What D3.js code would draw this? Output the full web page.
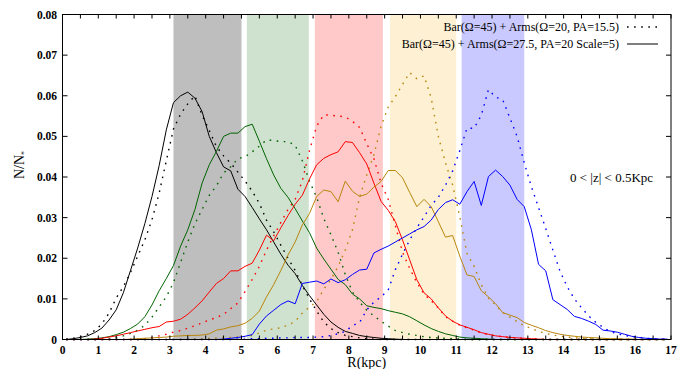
<!DOCTYPE html>
<html><head><meta charset="utf-8">
<script src="https://cdn.jsdelivr.net/npm/d3@7"></script>
<style>body{margin:0;background:#fff}svg{display:block}</style>
</head><body><svg id="c" width="687" height="369" font-family="'Liberation Serif', 'Times New Roman', serif"></svg>
<script>
const R = [0.1,0.3,0.5,0.7,0.9,1.1,1.3,1.5,1.7,1.9,2.1,2.3,2.5,2.7,2.9,3.1,3.3,3.5,3.7,3.9,4.1,4.3,4.5,4.7,4.9,5.1,5.3,5.5,5.7,5.9,6.1,6.3,6.5,6.7,6.9,7.1,7.3,7.5,7.7,7.9,8.1,8.3,8.5,8.7,8.9,9.1,9.3,9.5,9.7,9.9,10.1,10.3,10.5,10.7,10.9,11.1,11.3,11.5,11.7,11.9,12.1,12.3,12.5,12.7,12.9,13.1,13.3,13.5,13.7,13.9,14.1,14.3,14.5,14.7,14.9,15.1,15.3,15.5,15.7,15.9,16.1,16.3,16.5,16.7,16.9];
const Z10 = [0,0,0,0,0,0,0,0,0,0];
// Bar(Ω=45)+Arms(Ω=27.5, PA=20 Scale=5) — solid
const blackSolid = [0,0.0002,0.0005,0.0009,0.0017,0.0028,0.0048,0.0073,0.0115,0.0170,
 0.0225,0.0285,0.0352,0.0428,0.0516,0.0583,0.0600,0.0609,0.0594,0.0561,
 0.0500,0.0460,0.0425,0.0415,0.0370,0.0352,0.0325,0.0297,0.0270,0.0240,
 0.0210,0.0183,0.0162,0.0133,0.0108,0.0085,0.0062,0.0043,0.0030,0.0020,
 0.0015,0.0010,0.0007,0.0005,0.0003,0.0002,0.0001,0,0,0,
 ...Z10,...Z10,...Z10,0,0,0,0,0];
const greenSolid = [0,0,0,0.0001,0.0002,0.0004,0.0007,0.0012,0.0018,0.0027,
 0.0038,0.0056,0.0085,0.0120,0.0150,0.0182,0.0230,0.0270,0.0320,0.0385,
 0.0430,0.0463,0.0500,0.0508,0.0508,0.0524,0.0530,0.0488,0.0445,0.0405,
 0.0372,0.0350,0.0322,0.0292,0.0263,0.0225,0.0198,0.0173,0.0148,0.0135,
 0.0112,0.0100,0.0083,0.0079,0.0076,0.0071,0.0067,0.0063,0.0056,0.0046,
 0.0036,0.0027,0.0020,0.0014,0.0010,0.0006,0.0004,0.0003,0.0002,0.0001,
 ...Z10,...Z10,0,0,0,0,0];
const redSolid = [0,0,0,0,0.0001,0.0003,0.0006,0.0009,0.0013,0.0017,
 0.0021,0.0025,0.0029,0.0032,0.0043,0.0045,0.0050,0.0062,0.0078,0.0095,
 0.0117,0.0138,0.0150,0.0169,0.0169,0.0180,0.0188,0.0220,0.0257,0.0243,
 0.0275,0.0305,0.0333,0.0355,0.0395,0.0430,0.0446,0.0455,0.0462,0.0487,
 0.0485,0.0460,0.0432,0.0385,0.0340,0.0318,0.0290,0.0245,0.0196,0.0147,
 0.0115,0.0100,0.0078,0.0058,0.0045,0.0036,0.0030,0.0024,0.0017,0.0013,
 0.0009,0.0007,0.0005,0.0004,0.0003,0.0002,0.0001,0,0,0,
 ...Z10,0,0,0,0,0];
const goldSolid = [0,0,0,0,0,0,0,0,0,0.0001,
 0.0002,0.0003,0.0004,0.0005,0.0006,0.0008,0.0009,0.0010,0.0010,0.0011,
 0.0014,0.0023,0.0026,0.0031,0.0034,0.0040,0.0052,0.0070,0.0105,0.0135,
 0.0170,0.0208,0.0240,0.0282,0.0310,0.0352,0.0368,0.0364,0.0339,0.0390,
 0.0365,0.0352,0.0358,0.0375,0.0389,0.0416,0.0416,0.0398,0.0362,0.0327,
 0.0345,0.0327,0.0290,0.0252,0.0256,0.0205,0.0159,0.0155,0.0120,0.0105,
 0.0088,0.0066,0.0060,0.0054,0.0042,0.0035,0.0029,0.0022,0.0017,0.0013,
 0.0010,0.0008,0.0006,0.0005,0.0004,0.0003,0.0002,0.0002,0.0001,0.0001,
 0,0,0,0,0];
const blueSolid = [...Z10,...Z10,
 0,0,0.0001,0.0003,0.0005,0.0008,0.0012,0.0038,0.0058,0.0072,
 0.0086,0.0095,0.0088,0.0138,0.0141,0.0144,0.0137,0.0149,0.0140,0.0147,
 0.0160,0.0171,0.0173,0.0213,0.0222,0.0230,0.0240,0.0250,0.0260,0.0270,
 0.0278,0.0294,0.0320,0.0337,0.0344,0.0333,0.0364,0.0389,0.0330,0.0401,
 0.0417,0.0401,0.0380,0.0345,0.0327,0.0270,0.0185,0.0169,0.0098,0.0086,
 0.0074,0.0057,0.0052,0.0045,0.0037,0.0023,0.0021,0.0018,0.0013,0.0008,
 0.0005,0.0003,0.0002,0.0001,0.0001];
// Bar(Ω=45)+Arms(Ω=20, PA=15.5) — dotted
const blackDot = [0.0001,0.0003,0.0007,0.0013,0.0022,0.0038,0.0065,0.0102,0.0130,0.0165,
 0.0205,0.0245,0.0295,0.0360,0.0440,0.0518,0.0555,0.0580,0.0600,0.0552,
 0.0515,0.0475,0.0452,0.0434,0.0412,0.0390,0.0365,0.0335,0.0294,0.0265,
 0.0232,0.0200,0.0170,0.0133,0.0100,0.0070,0.0043,0.0027,0.0017,0.0010,
 0.0007,0.0004,0.0002,0.0001,0,0,0,0,0,0,
 ...Z10,...Z10,...Z10,0,0,0,0,0];
const greenDot = [0,0,0,0,0,0.0001,0.0002,0.0005,0.0009,0.0015,
 0.0023,0.0035,0.0055,0.0080,0.0105,0.0140,0.0190,0.0240,0.0285,0.0320,
 0.0355,0.0378,0.0410,0.0425,0.0445,0.0450,0.0462,0.0476,0.0491,0.0490,
 0.0487,0.0487,0.0478,0.0440,0.0390,0.0350,0.0298,0.0258,0.0215,0.0160,
 0.0117,0.0092,0.0072,0.0058,0.0045,0.0033,0.0022,0.0017,0.0013,0.0010,
 0.0007,0.0005,0.0004,0.0003,0.0002,0.0001,0,0,0,0,
 ...Z10,...Z10,0,0,0,0,0];
const redDot = [...Z10,
 0,0.0002,0.0005,0.0009,0.0013,0.0018,0.0022,0.0028,0.0034,0.0041,
 0.0048,0.0054,0.0062,0.0076,0.0090,0.0118,0.0148,0.0180,0.0220,0.0255,
 0.0288,0.0320,0.0345,0.0390,0.0465,0.0525,0.0553,0.0552,0.0550,0.0548,
 0.0537,0.0522,0.0482,0.0445,0.0385,0.0345,0.0280,0.0215,0.0175,0.0140,
 0.0112,0.0095,0.0078,0.0056,0.0045,0.0035,0.0029,0.0023,0.0016,0.0012,
 0.0009,0.0007,0.0005,0.0004,0.0003,0.0002,0.0001,0,0,0,
 ...Z10,0,0,0,0,0];
const goldDot = [...Z10,
 0,0,0,0,0,0,0,0.0001,0.0002,0.0002,
 0.0003,0.0004,0.0005,0.0005,0.0006,0.0007,0.0010,0.0016,0.0023,0.0026,
 0.0029,0.0035,0.0045,0.0065,0.0080,0.0093,0.0124,0.0148,0.0180,0.0220,
 0.0270,0.0350,0.0405,0.0455,0.0525,0.0572,0.0598,0.0628,0.0657,0.0642,
 0.0649,0.0595,0.0500,0.0435,0.0380,0.0302,0.0212,0.0180,0.0135,0.0102,
 0.0085,0.0066,0.0055,0.0044,0.0034,0.0027,0.0020,0.0015,0.0011,0.0008,
 0.0006,0.0004,0.0003,0.0002,0.0001,0,0,0,0,0,
 0,0,0,0,0];
const blueDot = [...Z10,...Z10,
 0,0,0,0,0.0001,0.0001,0.0002,0.0002,0.0003,0.0003,
 0.0004,0.0004,0.0005,0.0005,0.0005,0.0006,0.0007,0.0010,0.0014,0.0020,
 0.0034,0.0042,0.0073,0.0092,0.0105,0.0122,0.0172,0.0210,0.0245,0.0275,
 0.0302,0.0330,0.0350,0.0380,0.0415,0.0465,0.0520,0.0520,0.0552,0.0615,
 0.0597,0.0590,0.0545,0.0500,0.0435,0.0376,0.0325,0.0273,0.0220,0.0168,
 0.0130,0.0100,0.0078,0.0058,0.0042,0.0030,0.0020,0.0014,0.0010,0.0007,
 0.0005,0.0003,0.0002,0.0001,0];
const bandStart = [3.1, 5.15, 7.05, 9.15, 11.15];
const bandEnd   = [5.0, 6.88, 8.95, 11.0, 12.9];
const bandColor = ["#bebebe", "#cfe1cf", "#ffc9c9", "#fdf0d3", "#c9c9ff"];
const xTicks = d3.range(0, 18, 1);
const yTicks = [0, 0.01, 0.02, 0.03, 0.04, 0.05, 0.06, 0.07, 0.08];
const legendLabels = ["Bar(\u03A9=45) + Arms(\u03A9=20, PA=15.5)", "Bar(\u03A9=45) + Arms(\u03A9=27.5, PA=20 Scale=5)"];
const colors = ["#000000", "#006400", "#ff0000", "#b8860b", "#0000ff"];

const svg = d3.select("#c");
const FF = "'Liberation Serif', 'Times New Roman', serif";
const L = 62.5, Rt = 671, T = 14.5, B = 339.5;
const x = d3.scaleLinear().domain([0, 17]).range([L, Rt]);
const y = d3.scaleLinear().domain([0, 0.08]).range([B, T]);

svg.selectAll("rect.band").data(bandStart).enter().append("rect")
  .attr("x", (d) => x(d)).attr("y", T)
  .attr("width", (d, i) => x(bandEnd[i]) - x(d)).attr("height", B - T)
  .attr("fill", (d, i) => bandColor[i]);

const line = d3.line().x((d, i) => x(R[i])).y(d => y(d));
const solids = [blackSolid, greenSolid, redSolid, goldSolid, blueSolid];
const dots = [blackDot, greenDot, redDot, goldDot, blueDot];
dots.forEach((s, k) => svg.append("path").attr("d", line(s)).attr("fill", "none")
  .attr("stroke", colors[k]).attr("stroke-width", 1.4).attr("stroke-dasharray", "1.6,5.5"));
solids.forEach((s, k) => svg.append("path").attr("d", line(s)).attr("fill", "none")
  .attr("stroke", colors[k]).attr("stroke-width", 1));

svg.append("rect").attr("x", L).attr("y", T).attr("width", Rt - L).attr("height", B - T)
  .attr("fill", "none").attr("stroke", "#000").attr("stroke-width", 1);

const xt = d3.range(0, 17.01, 0.5);
svg.append("g").selectAll("line").data(xt).enter().append("line")
  .attr("x1", d => x(d)).attr("x2", d => x(d)).attr("y1", B).attr("y2", B - 4).attr("stroke", "#000");
svg.append("g").selectAll("line").data(xt).enter().append("line")
  .attr("x1", d => x(d)).attr("x2", d => x(d)).attr("y1", T).attr("y2", T + 4).attr("stroke", "#000");
svg.append("g").selectAll("line").data(yTicks).enter().append("line")
  .attr("x1", L).attr("x2", L + 5).attr("y1", d => y(d)).attr("y2", d => y(d)).attr("stroke", "#000");
svg.append("g").selectAll("line").data(yTicks).enter().append("line")
  .attr("x1", Rt).attr("x2", Rt - 5).attr("y1", d => y(d)).attr("y2", d => y(d)).attr("stroke", "#000");

svg.append("g").selectAll("text").data(xTicks).enter().append("text")
  .attr("font-family", FF)
  .attr("x", d => x(d)).attr("y", 354).attr("text-anchor", "middle")
  .attr("font-size", 11.5).attr("font-weight", "bold").text(d => d);
svg.append("g").selectAll("text").data(yTicks).enter().append("text")
  .attr("font-family", FF)
  .attr("x", 57).attr("y", d => y(d) + 4).attr("text-anchor", "end")
  .attr("font-size", 11.5).attr("font-weight", "bold").text(d => d === 0 ? "0" : d.toFixed(2));

svg.append("text").attr("font-family", FF).attr("x", x(8.5)).attr("y", 367).attr("text-anchor", "middle")
  .attr("font-size", 14).text("R(kpc)");
const yl = svg.append("text").attr("font-family", FF).attr("transform", "translate(24,165) rotate(-90)")
  .attr("text-anchor", "middle").attr("font-size", 14);
yl.append("tspan").text("N/N");
yl.append("tspan").attr("font-size", 8).attr("dy", 3).text("*");

const ly = [27, 44];
legendLabels.forEach((t, i) => {
  svg.append("text").attr("font-family", FF).attr("x", 619).attr("y", ly[i] + 4).attr("text-anchor", "end")
    .attr("font-size", 12).text(t);
  const ln = svg.append("line").attr("x1", 627).attr("x2", 658).attr("y1", ly[i]).attr("y2", ly[i])
    .attr("stroke", "#000");
  if (i === 0) ln.attr("stroke-width", 1.4).attr("stroke-dasharray", "1.6,5.5");
});

svg.append("text").attr("font-family", FF).attr("x", 570).attr("y", 182).attr("font-size", 13).text("0 < |z| < 0.5Kpc");
</script></body></html>
